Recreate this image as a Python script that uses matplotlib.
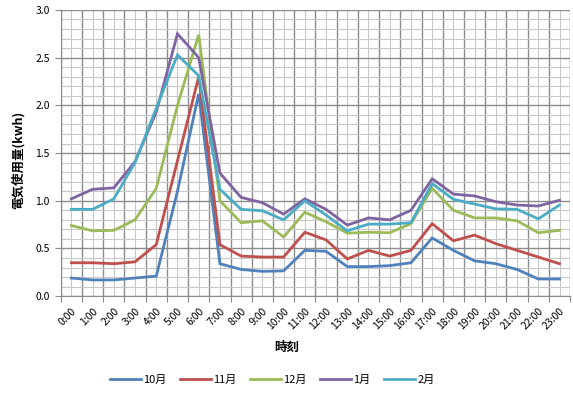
import matplotlib
matplotlib.use("Agg")
import matplotlib.pyplot as plt
from matplotlib.ticker import MultipleLocator, FixedLocator, NullFormatter

plt.rcParams['font.family'] = ['Noto Sans CJK JP', 'DejaVu Sans']

hours = [f"{h}:00" for h in range(24)]
series_names = ["10月", "11月", "12月", "1月", "2月"]
oct_vals = [0.19, 0.17, 0.17, 0.19, 0.21, 1.10, 2.12, 0.34, 0.28, 0.26, 0.265,
            0.48, 0.47, 0.31, 0.31, 0.32, 0.35, 0.61, 0.48, 0.37, 0.34, 0.28, 0.18, 0.18]
nov_vals = [0.35, 0.35, 0.34, 0.36, 0.54, 1.42, 2.30, 0.54, 0.42, 0.41, 0.41,
            0.67, 0.59, 0.39, 0.48, 0.42, 0.48, 0.76, 0.58, 0.64, 0.55, 0.48, 0.41, 0.34]
dec_vals = [0.74, 0.685, 0.69, 0.80, 1.13, 2.00, 2.74, 1.00, 0.77, 0.79, 0.62,
            0.88, 0.78, 0.66, 0.67, 0.665, 0.76, 1.13, 0.90, 0.82, 0.82, 0.79, 0.665, 0.69]
jan_vals = [1.02, 1.12, 1.135, 1.41, 1.93, 2.75, 2.50, 1.29, 1.035, 0.98, 0.86,
            1.02, 0.91, 0.745, 0.82, 0.80, 0.90, 1.23, 1.07, 1.05, 0.99, 0.955, 0.945, 1.005]
feb_vals = [0.91, 0.91, 1.02, 1.40, 1.97, 2.53, 2.31, 1.12, 0.91, 0.895, 0.80,
            1.00, 0.85, 0.685, 0.755, 0.755, 0.77, 1.18, 1.015, 0.965, 0.915, 0.91, 0.81, 0.955]
colors = ["#4F81BD", "#C0504D", "#9BBB59", "#8064A2", "#4BACC6"]

fig = plt.figure(figsize=(5.73, 3.97), dpi=100)
ax = fig.add_axes([0.106, 0.254, 0.889, 0.721])

x = list(range(len(hours)))
for name, vals, c in zip(series_names, [oct_vals, nov_vals, dec_vals, jan_vals, feb_vals], colors):
    ax.plot(x, vals, color=c, lw=2.0, label=name, solid_joinstyle='miter')

ax.set_xlim(-0.5, len(hours) - 0.5)
ax.set_ylim(0, 3.0)

# y axis
ax.yaxis.set_major_locator(MultipleLocator(0.5))
ax.yaxis.set_minor_locator(MultipleLocator(0.1))
ax.yaxis.set_major_formatter(matplotlib.ticker.FormatStrFormatter('%.1f'))
# x axis: major at boundaries (no labels), minor at centers (labels)
ax.xaxis.set_major_locator(FixedLocator([i - 0.5 for i in range(len(hours) + 1)]))
ax.xaxis.set_major_formatter(NullFormatter())
ax.xaxis.set_minor_locator(FixedLocator(x))
ax.set_xticklabels(hours, minor=True, rotation=45, ha='right', rotation_mode='anchor', fontsize=7.5)

ax.grid(which='major', color='#8C8C8C', lw=1.0)
ax.grid(which='minor', color='#C8C8C8', lw=0.8)
ax.set_axisbelow(True)

ax.tick_params(axis='y', which='major', length=4, color='#8C8C8C', labelsize=7.5, pad=4)
ax.tick_params(axis='y', which='minor', length=0)
ax.tick_params(axis='x', which='major', length=4, color='#8C8C8C')
ax.tick_params(axis='x', which='minor', length=0, pad=7)

for sp in ['top', 'right']:
    ax.spines[sp].set_visible(False)
for sp in ['left', 'bottom']:
    ax.spines[sp].set_color('#8C8C8C')

fig.text(0.5, 1 - 347 / 397, "時刻", ha='center', va='center', fontsize=9, fontweight='bold')
fig.text(18 / 573, 1 - 160 / 397, "電気使用量(kwh)", ha='center', va='center', rotation=90,
         fontsize=9, fontweight='bold')

handles, labels = ax.get_legend_handles_labels()
fig.legend(handles, labels, loc='center', bbox_to_anchor=(272 / 573, 1 - 380 / 397), ncol=5,
           frameon=False, fontsize=8, handlelength=2.8, handletextpad=0.2, columnspacing=1.2)

fig.savefig("out.png", dpi=100)
